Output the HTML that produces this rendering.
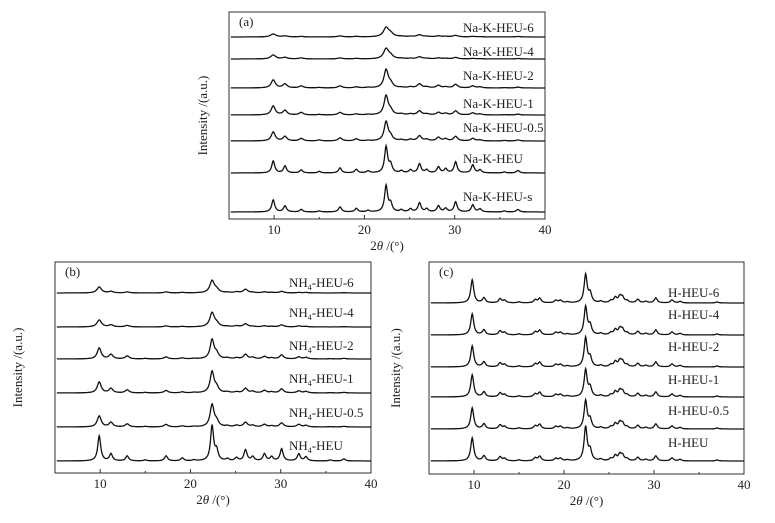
<!DOCTYPE html>
<html><head><meta charset="utf-8"><style>
body{margin:0;background:#fff;width:775px;height:523px;overflow:hidden}
svg{display:block;font-family:"Liberation Serif",serif}
</style></head><body>
<svg id="fig" width="775" height="523"></svg>
<script>
const NS="http://www.w3.org/2000/svg";
const xTicks=[10,20,30,40];
// panel a
const posA=[9.9,11.2,13.0,15.0,17.3,19.1,20.4,22.4,22.9,24.1,25.1,26.1,26.9,28.2,29.0,30.1,32.0,32.8,35.5,37.0];
const namesA=["Na-K-HEU-6","Na-K-HEU-4","Na-K-HEU-2","Na-K-HEU-1","Na-K-HEU-0.5","Na-K-HEU","Na-K-HEU-s"];
const baseA=[37,59,88,115,141,173,212];
const widthA=[0.35,0.33,0.28,0.27,0.26,0.2,0.2];
const ampA=[
[3,1,0.5,0,1,0.5,0,9,3,0.5,0.5,2,0.5,1,0.5,1.5,0.5,0.3,0,0.5],
[4,1.5,1,0,1,0.5,0,10,3,0.5,0.5,2,0.5,1,0.5,1.5,0.5,0.3,0,0.5],
[8,4,2,0.5,2,1,0.5,18,4,0.5,1,4,1,2.5,1,3.5,2,1,0.3,0.8],
[9,4.5,2.5,0.5,2.5,1,0.5,19,4,1,1,4,1,2.5,1.5,4,2,1,0.3,0.8],
[9,4.5,2.5,1,3,2,0.5,19,4,1,1.5,5,1.5,3.5,2,4.5,2.5,1,0.5,1],
[12,7,3,1.5,5,3.5,2,26,8,2,3,9,3,6,4,11,8,3,1,2.5],
[12,6,2.5,1,5,3.5,1.5,26,8,2,3,9,3,6,3.5,10,7,3,1,2.5]];
// panel b
const namesB=["NH4-HEU-6","NH4-HEU-4","NH4-HEU-2","NH4-HEU-1","NH4-HEU-0.5","NH4-HEU"];
const baseB=[293,327,359,393,427,461];
const widthB=[0.3,0.3,0.26,0.26,0.26,0.2];
const ampB=[
[6,1.5,1,0,1,0.5,0,12,3,0.5,1,3.5,0.5,1,0.5,1.5,0.5,0.5,0,0.3],
[7,2,1.5,0,1,0.5,0,14,3,0.5,1,3,0.5,1,0.5,2,1,0.5,0,0.3],
[11,4.5,3,0.5,2,1,0.5,19,5,1,1,4.5,1.5,2.5,1,4,2,1.5,0.3,0.6],
[11,4.5,3,0.5,2.5,1,0.5,21,5,1,1,4.5,1.5,2.5,1,4,2,1.5,0.3,0.6],
[11,4.5,3,0.5,2.5,1,0.5,22,5,1,1.5,4.5,1.5,2.5,1,4,2.5,1.5,0.3,0.6],
[25,7,5,1,5,3,1,35,10,2,3,11,4,7,4,12,7,4,1,2]];
// panel c
const posC=[9.8,11.1,12.9,13.4,15.0,16.8,17.3,19.1,19.6,20.4,22.4,22.9,24.1,25.2,25.7,26.2,26.5,27.0,28.2,29.1,30.2,32.0,32.9,37.0];
const namesC=["H-HEU-6","H-HEU-4","H-HEU-2","H-HEU-1","H-HEU-0.5","H-HEU"];
const baseC=[303,335,367,397,429,461];
const widthC=[0.2,0.2,0.2,0.2,0.2,0.2];
const ampC=[
[23,5,4,2.5,1,3,4.5,2.5,2.5,1,28,9,1.5,2,5,6,5,2,3.5,1.5,5,3,1.5,1],
[21,5,4,2.5,1,3,4.5,2.5,2.5,1,28,9,1.5,2,5,6,5,2,3.5,1.5,5,3,1.5,1],
[21,5,4,2.5,1,3,4.5,2.5,2.5,1,29,9,1.5,2,5,6,5,2,3.5,1.5,5,3,1.5,1],
[22,5,4,2.5,1,3,4.5,2.5,2.5,1,27,9,1.5,2,5,6,5,2,3.5,1.5,5,3,1.5,1],
[21,5,4,2.5,1,3,4.5,2.5,2.5,1,28,9,1.5,2,5,6,5,2,3.5,1.5,5,3,1.5,1],
[23,5,4,2.5,1,3,4.5,2.5,2.5,1,34,10,1.5,2,5,6,5,2,3.5,1.5,5,3,1.5,1]];

const svg=document.getElementById('fig');
function el(t,a,p){const e=document.createElementNS(NS,t);for(const k in a)e.setAttribute(k,a[k]);(p||svg).appendChild(e);return e;}
function panel(id,L,R,T,B,pos,names,bases,amps,widths,labX,labY,yTitleX,letter){
  const g=el('g',{});
  
  
  const sx=v=>L+(v-5)/(40-5)*(R-L);
  const fr=el('rect',{x:L,y:T,width:R-L,height:B-T,fill:'none',stroke:'#333','stroke-width':1},g);
  
  
  for(let v=5;v<=40;v+=5){
    const tk=el('line',{x1:sx(v),x2:sx(v),y1:B,y2:B-(v%10===0?4:2),stroke:'#333'},g);
    
    
  }
  xTicks.forEach(v=>{
    const t=el('text',{x:sx(v),y:B+15,'font-size':13,'text-anchor':'middle',fill:'#222'},g);t.textContent=v;
    
    
  });
  const xt=el('text',{x:(L+R)/2,y:B+31,'font-size':13,'text-anchor':'middle',fill:'#222'},g);
  xt.innerHTML='2<tspan font-style="italic">θ</tspan> /(°)';
  
  
  const yt=el('text',{x:yTitleX,y:(T+B)/2,'font-size':13,'text-anchor':'middle',fill:'#222',transform:`rotate(-90 ${yTitleX} ${(T+B)/2})`},g);
  yt.innerHTML='Intensity /(a.u.)';
  
  
  const pl=el('text',{x:L+10,y:T+14,'font-size':13,fill:'#222'},g);pl.textContent='('+letter+')';
  
  
  names.forEach((n,i)=>{
    let d='';
    for(let x=5.2;x<=40;x+=0.05){
      let y=0;
      pos.forEach((p,j)=>{const w=widths[i];y+=amps[i][j]/(1+((x-p)/w)**2);});
      d+=(d?'L':'M')+sx(x).toFixed(1)+' '+(bases[i]-y).toFixed(1);
    }
    const path=el('path',{d:d,fill:'none',stroke:'#111','stroke-width':1.3},g);
    
    
    const t=el('text',{x:labX,y:labY[i],'font-size':13,fill:'#222'},g);
    if(n.startsWith('NH4')) t.innerHTML='NH<tspan font-size="8" dy="3">4</tspan><tspan dy="-3">'+n.slice(3)+'</tspan>';
    else t.textContent=n;
    
    
  });
}
panel('a',229,545,12,219,posA,namesA,baseA,ampA,widthA,463,[32,56,80,108,132,163,201],207,'a');
panel('b',55,371,262,473,posA,namesB,baseB,ampB,widthB,289,[287,317,350,383,417,450],22,'b');
panel('c',429,744,262,474,posC,namesC,baseC,ampC,widthC,668,[297,319,351,384,415,447],400,'c');
</script>
</body></html>
